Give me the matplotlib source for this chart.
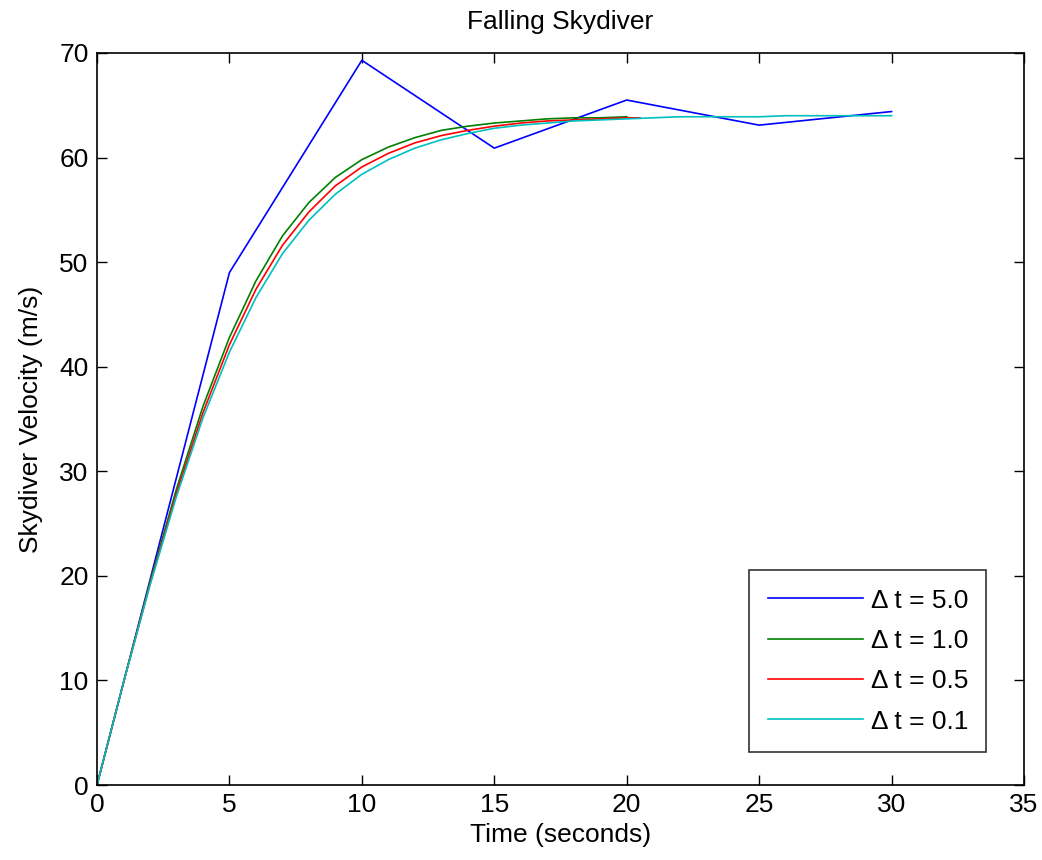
import matplotlib
matplotlib.use('Agg')
import matplotlib.pyplot as plt

# velocities (m/s)
t_dt50 = [0, 5, 10, 15, 20, 25, 30]
v_dt50 = [0, 49.0, 69.3, 60.9, 65.5, 63.1, 64.4]

t_dt10 = list(range(0, 21))
v_dt10 = [0, 9.8, 19.4, 28.3, 36.2, 42.8, 48.2, 52.5, 55.7, 58.1, 59.8,
          61.0, 61.9, 62.6, 63.0, 63.3, 63.5, 63.7, 63.8, 63.8, 63.9]

t_dt05 = list(range(0, 21)) + [20.5]
v_dt05 = [0, 9.8, 19.2, 27.9, 35.6, 42.1, 47.4, 51.6, 54.8, 57.3, 59.1,
          60.4, 61.4, 62.1, 62.6, 63.0, 63.3, 63.5, 63.6, 63.7, 63.8, 63.8]

t_dt01 = list(range(0, 31))
v_dt01 = [0, 9.8, 19.1, 27.6, 35.1, 41.4, 46.6, 50.8, 54.0, 56.5, 58.4,
          59.8, 60.9, 61.7, 62.3, 62.8, 63.1, 63.3, 63.5, 63.6, 63.7,
          63.8, 63.9, 63.9, 63.9, 63.9, 64.0, 64.0, 64.0, 64.0, 64.0]

labels = ['\u0394 t = 5.0', '\u0394 t = 1.0', '\u0394 t = 0.5', '\u0394 t = 0.1']

plt.rcParams['font.family'] = ['Liberation Sans', 'DejaVu Sans']
fs = 19

fig = plt.figure(figsize=(10.42, 8.6), dpi=100)
ax = fig.add_axes([0.0931, 0.0872, 0.8896, 0.8512])

ax.plot(t_dt50, v_dt50, color=(0, 0, 1), lw=1.2, label=labels[0])
ax.plot(t_dt10, v_dt10, color=(0, 0.5, 0), lw=1.2, label=labels[1])
ax.plot(t_dt05, v_dt05, color=(1, 0, 0), lw=1.2, label=labels[2])
ax.plot(t_dt01, v_dt01, color=(0, 0.75, 0.75), lw=1.2, label=labels[3])

ax.set_xlim(0, 35)
ax.set_ylim(0, 70)
ax.set_xticks(range(0, 36, 5))
ax.set_yticks(range(0, 71, 10))
ax.tick_params(direction='in', top=True, right=True, length=7, width=1,
               labelsize=fs, pad=6)
for s in ax.spines.values():
    s.set_linewidth(1.2)

ax.set_title('Falling Skydiver', fontsize=fs, pad=17)
ax.set_xlabel('Time (seconds)', fontsize=fs, labelpad=4)
ax.set_ylabel('Skydiver Velocity (m/s)', fontsize=fs, labelpad=12)

leg = ax.legend(loc='lower right', bbox_to_anchor=(0.9595, 0.045),
                fontsize=fs, handlelength=3.6, frameon=True, fancybox=False,
                borderpad=0.7, labelspacing=0.62, handletextpad=0.3,
                borderaxespad=0)
leg.get_frame().set_edgecolor('black')
leg.get_frame().set_linewidth(1.2)

fig.savefig('out.png', dpi=100)
